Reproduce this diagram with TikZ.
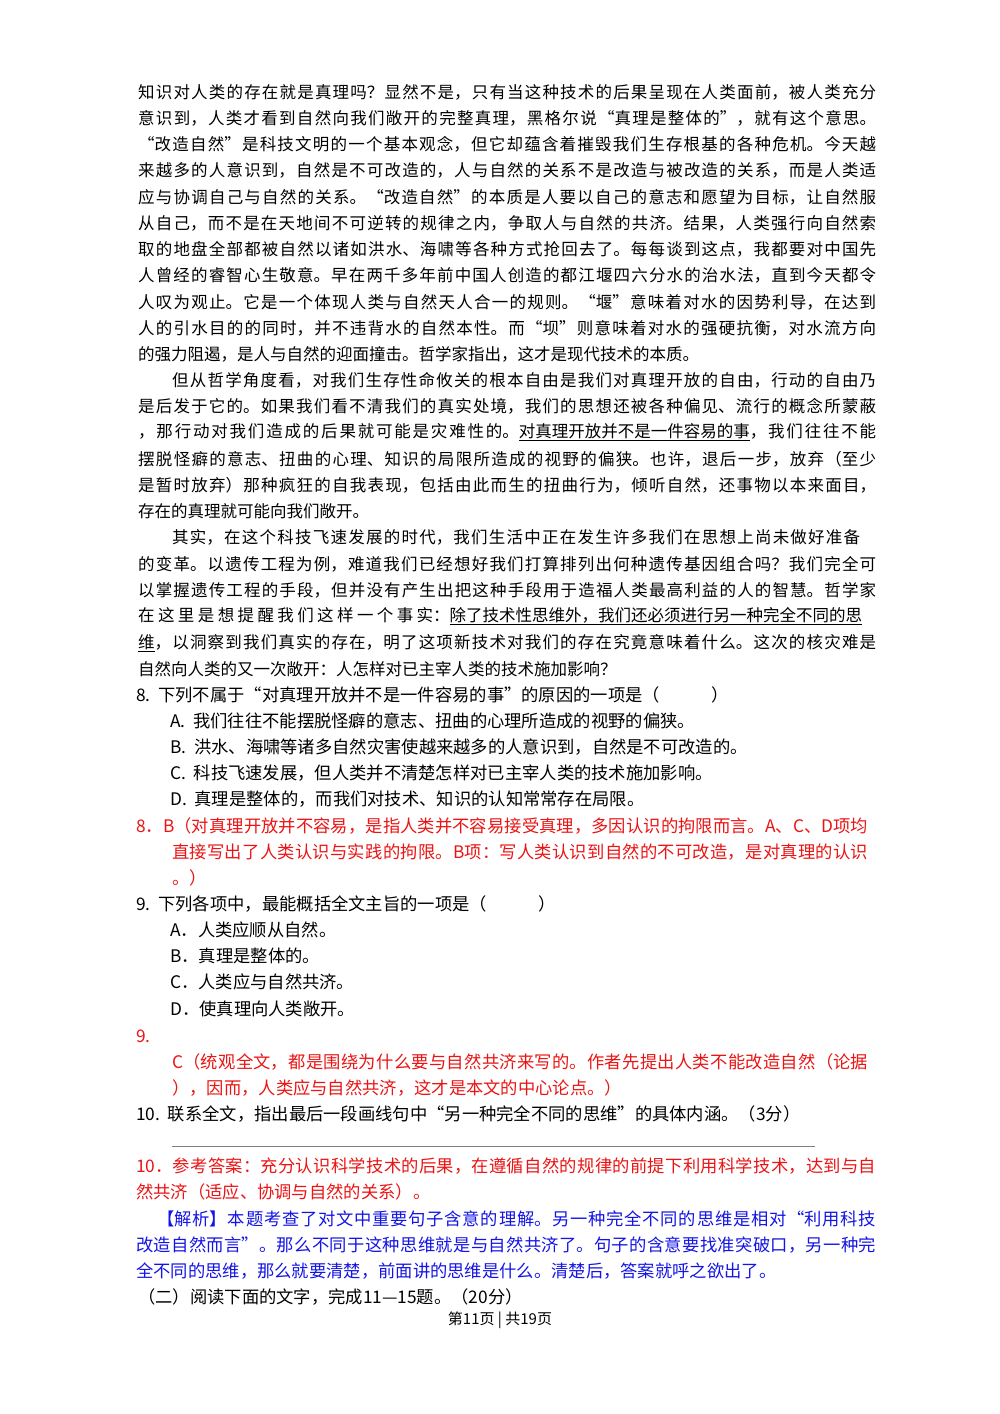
\documentclass[tikz,border=0pt]{standalone}
\usepackage{fontspec}
\setmainfont{Noto Sans CJK SC}
\XeTeXlinebreaklocale "zh"
\XeTeXlinebreakskip=0pt plus 3pt
\newcounter{lnc}
\newcommand\jl[4][black]{\stepcounter{lnc}\node[txt,text=#1,text width=#3pt,align=justify] (L\arabic{lnc}) at (#2) {\parfillskip=0pt\relax #4\par};}
\newcommand\pl[3][black]{\stepcounter{lnc}\node[txt,text=#1] (L\arabic{lnc}) at (#2) {#3};}
\definecolor{ansred}{RGB}{235,20,20}
\definecolor{ansblue}{RGB}{20,20,230}
\begin{document}
\begin{tikzpicture}[x=1pt,y=-1pt,txt/.style={anchor=west,inner sep=0,font=\fontsize{16.5}{19}\selectfont},qs/.style={font=\fontsize{17.3}{19}\selectfont}]
\useasboundingbox[fill=white] (0,0) rectangle (1000,1414);
\jl{138,92}{738}{知识对人类的存在就是真理吗？显然不是，只有当这种技术的后果呈现在人类面前，被人类充分}
\jl{138,118}{738}{意识到，人类才看到自然向我们敞开的完整真理，黑格尔说“真理是整体的”，就有这个意思。}
\jl{138,144}{738}{“改造自然”是科技文明的一个基本观念，但它却蕴含着摧毁我们生存根基的各种危机。今天越}
\jl{138,170}{738}{来越多的人意识到，自然是不可改造的，人与自然的关系不是改造与被改造的关系，而是人类适}
\jl{138,197}{738}{应与协调自己与自然的关系。“改造自然”的本质是人要以自己的意志和愿望为目标，让自然服}
\jl{138,223}{738}{从自己，而不是在天地间不可逆转的规律之内，争取人与自然的共济。结果，人类强行向自然索}
\jl{138,249}{738}{取的地盘全部都被自然以诸如洪水、海啸等各种方式抢回去了。每每谈到这点，我都要对中国先}
\jl{138,275}{738}{人曾经的睿智心生敬意。早在两千多年前中国人创造的都江堰四六分水的治水法，直到今天都令}
\jl{138,302}{738}{人叹为观止。它是一个体现人类与自然天人合一的规则。“堰”意味着对水的因势利导，在达到}
\jl{138,328}{738}{人的引水目的的同时，并不违背水的自然本性。而“坝”则意味着对水的强硬抗衡，对水流方向}
\pl{138,354}{的强力阻遏，是人与自然的迎面撞击。哲学家指出，这才是现代技术的本质。}
\jl{172,380}{704}{但从哲学角度看，对我们生存性命攸关的根本自由是我们对真理开放的自由，行动的自由乃}
\jl{138,406}{738}{是后发于它的。如果我们看不清我们的真实处境，我们的思想还被各种偏见、流行的概念所蒙蔽}
\jl{138,432}{738}{，那行动对我们造成的后果就可能是灾难性的。\underline{对真理开放并不是一件容易的事}，我们往往不能}
\jl{138,459}{738}{摆脱怪癖的意志、扭曲的心理、知识的局限所造成的视野的偏狭。也许，退后一步，放弃（至少}
\jl{138,485}{738}{是暂时放弃）那种疯狂的自我表现，包括由此而生的扭曲行为，倾听自然，还事物以本来面目，}
\pl{138,511}{存在的真理就可能向我们敞开。}
\jl{172,537}{688}{其实，在这个科技飞速发展的时代，我们生活中正在发生许多我们在思想上尚未做好准备}
\jl{138,564}{738}{的变革。以遗传工程为例，难道我们已经想好我们打算排列出何种遗传基因组合吗？我们完全可}
\jl{138,590}{738}{以掌握遗传工程的手段，但并没有产生出把这种手段用于造福人类最高利益的人的智慧。哲学家}
\jl{138,616}{724}{在这里是想提醒我们这样一个事实：\underline{除了技术性思维外，我们还必须进行另一种完全不同的思}}
\jl{138,643}{738}{\underline{维}，以洞察到我们真实的存在，明了这项新技术对我们的存在究竟意味着什么。这次的核灾难是}
\pl{138,669}{自然向人类的又一次敞开：人怎样对已主宰人类的技术施加影响？}
\pl[black,qs]{136,695}{8.\ \ 下列不属于“对真理开放并不是一件容易的事”的原因的一项是（\hspace{3em}）}
\pl[black,qs]{170,721}{A.\ \ 我们往往不能摆脱怪癖的意志、扭曲的心理所造成的视野的偏狭。}
\pl[black,qs]{170,747}{B.\ \ 洪水、海啸等诸多自然灾害使越来越多的人意识到，自然是不可改造的。}
\pl[black,qs]{170,773}{C.\ \ 科技飞速发展，但人类并不清楚怎样对已主宰人类的技术施加影响。}
\pl[black,qs]{170,799}{D.\ \ 真理是整体的，而我们对技术、知识的认知常常存在局限。}
\jl[ansred,qs]{136,826}{732}{8．B（对真理开放并不容易，是指人类并不容易接受真理，多因认识的拘限而言。A、C、D项均}
\jl[ansred,qs]{172,852}{696}{直接写出了人类认识与实践的拘限。B项：写人类认识到自然的不可改造，是对真理的认识}
\pl[ansred,qs]{172,878}{。）}
\pl[black,qs]{136,904}{9.\ \ 下列各项中，最能概括全文主旨的一项是（\hspace{3em}）}
\pl[black,qs]{170,930}{A．人类应顺从自然。}
\pl[black,qs]{170,956}{B．真理是整体的。}
\pl[black,qs]{170,982}{C．人类应与自然共济。}
\pl[black,qs]{170,1009}{D．使真理向人类敞开。}
\pl[ansred,qs]{136,1036}{9.}
\jl[ansred,qs]{172,1062}{696}{C（统观全文，都是围绕为什么要与自然共济来写的。作者先提出人类不能改造自然（论据}
\pl[ansred,qs]{172,1088}{），因而，人类应与自然共济，这才是本文的中心论点。）}
\pl[black,qs]{136,1114}{10.\ \ 联系全文，指出最后一段画线句中“另一种完全不同的思维”的具体内涵。（3分）}
\coordinate (ls) at (172,1146); \coordinate (le) at (815,1146);
\draw[gray,line width=0.8pt] (ls) -- (le);
\jl[ansred,qs]{136,1166}{740}{10．参考答案：充分认识科学技术的后果，在遵循自然的规律的前提下利用科学技术，达到与自}
\pl[ansred,qs]{136,1192}{然共济（适应、协调与自然的关系）。}
\jl[ansblue,qs]{157,1219}{719}{【解析】本题考查了对文中重要句子含意的理解。另一种完全不同的思维是相对“利用科技}
\jl[ansblue,qs]{136,1245}{740}{改造自然而言”。那么不同于这种思维就是与自然共济了。句子的含意要找准突破口，另一种完}
\pl[ansblue,qs]{136,1271}{全不同的思维，那么就要清楚，前面讲的思维是什么。清楚后，答案就呼之欲出了。}
\pl[black,qs]{138,1297}{（二）阅读下面的文字，完成11—15题。（20分）}
\node[anchor=center,inner sep=0,font=\fontsize{15}{17}\selectfont] (foot) at (500,1320) {第11页 | 共19页};
\end{tikzpicture}
\end{document}
